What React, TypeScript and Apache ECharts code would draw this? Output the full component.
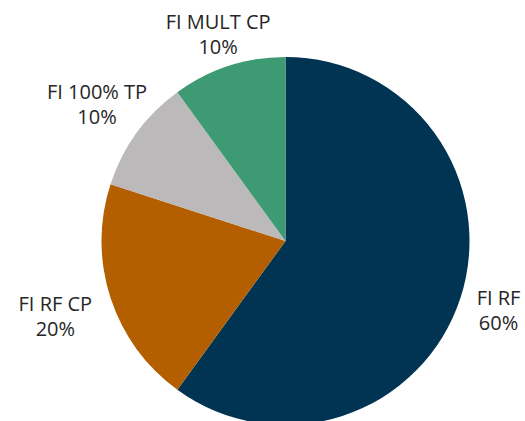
import React, { useEffect, useRef } from "react";
import * as echarts from "echarts";

const categories: string[] = ["FI RF", "FI RF CP", "FI 100% TP", "FI MULT CP"];
const values: number[] = [60, 20, 10, 10];
const colors: string[] = ["#003452", "#B35F00", "#BBB9B9", "#3E9A72"];

// layout (not data)
const CX = 285.5;
const CY = 241;
const R = 184;
const labelDist: number[] = [224, 242, 233, 218];

export default function App() {
  const ref = useRef<HTMLDivElement>(null);
  useEffect(() => {
    if (!ref.current) return;
    const chart = echarts.init(ref.current, null, { renderer: "svg" });
    const total = values.reduce((a, b) => a + b, 0);
    const mids: number[] = [];
    let acc = 0;
    values.forEach((v) => {
      mids.push(((acc + v / 2) / total) * 360);
      acc += v;
    });
    chart.setOption({
      animation: false,
      backgroundColor: "#ffffff",
      series: [
        {
          type: "pie",
          center: [CX, CY],
          radius: R,
          startAngle: 90,
          clockwise: true,
          avoidLabelOverlap: false,
          percentPrecision: 0,
          itemStyle: { borderWidth: 0 },
          label: {
            show: true,
            position: "outside",
            formatter: "{b}\n{d}%",
            fontFamily: "Open Sans",
            fontSize: 20,
            lineHeight: 25,
            color: "#262626",
          },
          labelLine: { show: false },
          emphasis: { disabled: true },
          labelLayout: (params: any) => {
            const i = params.dataIndex;
            const a = (mids[i] * Math.PI) / 180;
            const d = labelDist[i];
            return {
              x: CX + Math.sin(a) * d,
              y: CY - Math.cos(a) * d,
              align: "center",
              verticalAlign: "middle",
            };
          },
          data: categories.map((name, i) => ({
            name,
            value: values[i],
            itemStyle: { color: colors[i] },
          })),
        },
      ],
    });
    return () => chart.dispose();
  }, []);
  return (
    <div
      ref={ref}
      style={{ position: "absolute", left: 0, top: 0, width: 525, height: 421 }}
    />
  );
}
